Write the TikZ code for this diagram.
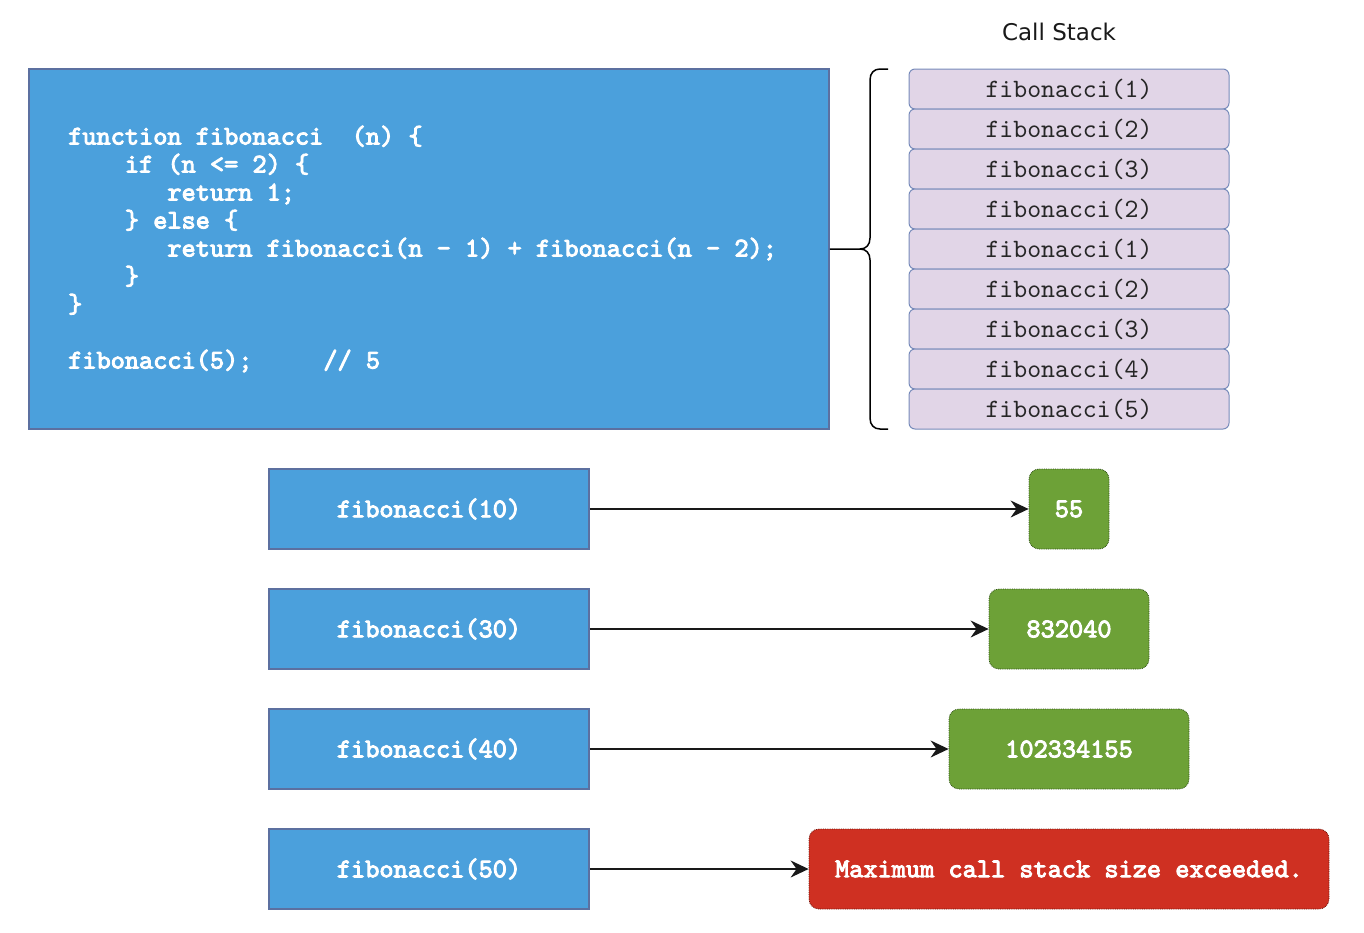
\documentclass[tikz,border=0pt]{standalone}
\usepackage{fontspec}
\newfontfamily\callfont{DejaVu Sans}
\newfontfamily\codebf{lmmono10-regular.otf}[FakeBold=3.5]
\newfontfamily\coderm{lmmono10-regular.otf}
\usetikzlibrary{arrows.meta}
\definecolor{codeblue}{RGB}{75,160,220}
\definecolor{codeborder}{RGB}{92,112,160}
\definecolor{stackfill}{RGB}{225,213,231}
\definecolor{stackborder}{RGB}{118,138,186}
\definecolor{resgreen}{RGB}{109,161,55}
\definecolor{resgreenborder}{RGB}{45,80,20}
\definecolor{resred}{RGB}{207,48,34}
\definecolor{resredborder}{RGB}{110,20,10}
\begin{document}
\begin{tikzpicture}[x=1pt,y=-1pt,
  bluebox/.style={draw=codeborder, fill=codeblue, line width=1.5pt, inner sep=0pt},
  monobold/.style={font=\fontsize{27}{28}\selectfont\codebf, text=white},
  callbox/.style={bluebox, monobold, minimum width=320pt, minimum height=80pt},
  stackbox/.style={draw=stackborder, fill=stackfill, line width=1pt, rounded corners=6pt,
    minimum width=320pt, minimum height=40pt, inner sep=0pt, text height=21pt, text depth=4pt,
    font=\fontsize{26.5}{28}\selectfont\coderm, text=black!85},
  resbox/.style={fill=resgreen, draw=resgreenborder, line width=0.8pt, densely dotted,
    rounded corners=10pt, minimum height=80pt, inner sep=0pt, monobold},
  errbox/.style={resbox, fill=resred, draw=resredborder},
  arr/.style={line width=1.5pt, draw=black!90, -{Stealth[length=18pt,width=17pt,inset=6pt]}},
  bracestyle/.style={line width=1.5pt, draw=black}
]
\useasboundingbox (0,0) rectangle (1364,932);

% code block
\node[bluebox, minimum width=800pt, minimum height=360pt] (code) at (429,249) {};
\node[monobold, align=left, anchor=west, inner sep=0pt] (codetext) at (68,249)
{function~fibonacci~~(n)~\{\\
~~~~if~(n~<=~2)~\{\\
~~~~~~~return~1;\\
~~~~\}~else~\{\\
~~~~~~~return~fibonacci(n~-~1)~+~fibonacci(n~-~2);\\
~~~~\}\\
\}\\
~\\
fibonacci(5);~~~~~//~5};

% call stack title
\node[font=\callfont\fontsize{23}{27}\selectfont, text=black!90] (title) at (1059,32) {Call Stack};

% stack frames
\foreach \n [count=\i] in {1,2,3,2,1,2,3,4,5}
  \node[stackbox] (s\i) at (1069,49+40*\i) {fibonacci(\n)};

% curly brace
\draw[bracestyle] (code.east) -- (860,249)
  .. controls (866,249) and (870,245) .. (870,238) -- (870,80)
  .. controls (870,73) and (874,69) .. (880,69) -- (888,69);
\draw[bracestyle] (860,249)
  .. controls (866,249) and (870,253) .. (870,260) -- (870,418)
  .. controls (870,425) and (874,429) .. (880,429) -- (888,429);

% calls
\node[callbox] (c10) at (429,509) {fibonacci(10)};
\node[callbox] (c30) at (429,629) {fibonacci(30)};
\node[callbox] (c40) at (429,749) {fibonacci(40)};
\node[callbox] (c50) at (429,869) {fibonacci(50)};

% results
\node[resbox, minimum width=80pt] (r10) at (1069,509) {55};
\node[resbox, minimum width=160pt] (r30) at (1069,629) {832040};
\node[resbox, minimum width=240pt] (r40) at (1069,749) {102334155};
\node[errbox, minimum width=520pt] (r50) at (1069,869) {Maximum~call~stack~size~exceeded.};

% arrows
\draw[arr] (c10.east) -- (r10.west);
\draw[arr] (c30.east) -- (r30.west);
\draw[arr] (c40.east) -- (r40.west);
\draw[arr] (c50.east) -- (r50.west);
\end{tikzpicture}
\end{document}
